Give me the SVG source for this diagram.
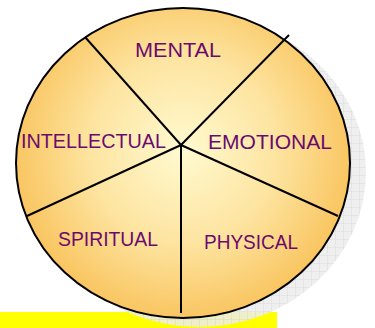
<svg xmlns="http://www.w3.org/2000/svg" width="375" height="328" viewBox="0 0 375 328">
<style>
.lbl{font-family:"Liberation Sans",Arial,sans-serif;font-size:20px;fill:#6b0a6e;}
.spoke{stroke:#000;stroke-width:2;fill:none;}
</style>
<defs>
<radialGradient id="g" cx="183" cy="150" r="170" gradientUnits="userSpaceOnUse">
<stop offset="0" stop-color="#fffad0"/>
<stop offset="0.55" stop-color="#fde4a0"/>
<stop offset="1" stop-color="#f9c560"/>
</radialGradient>
<pattern id="grid" width="8" height="8" patternUnits="userSpaceOnUse">
<rect width="8" height="8" fill="#ececec"/>
<path d="M8 0V8M0 8H8" stroke="#d4d4d4" stroke-width="1"/>
</pattern>
</defs>
<rect width="375" height="328" fill="#fff"/>
<rect x="0" y="312" width="277" height="16" fill="#ffff00"/>
<ellipse cx="199" cy="172" rx="167" ry="155" fill="url(#grid)" opacity="0.85"/>
<g id="wheel">
<ellipse cx="183" cy="163" rx="167" ry="155" fill="url(#g)" stroke="#000" stroke-width="2"/>
</g>
<g id="connectors">
<line class="spoke" x1="181" y1="145" x2="85" y2="37"/>
<line class="spoke" x1="181" y1="145" x2="289" y2="35"/>
<line class="spoke" x1="181" y1="145" x2="27" y2="216"/>
<line class="spoke" x1="181" y1="145" x2="338" y2="216"/>
<line class="spoke" x1="181" y1="145" x2="181" y2="313"/>
</g>
<g id="mental"><text class="lbl" x="135" y="57" textLength="86" lengthAdjust="spacingAndGlyphs">MENTAL</text></g>
<g id="intellectual"><text class="lbl" x="21" y="148" textLength="145" lengthAdjust="spacingAndGlyphs">INTELLECTUAL</text></g>
<g id="emotional"><text class="lbl" x="208" y="149" textLength="124" lengthAdjust="spacingAndGlyphs">EMOTIONAL</text></g>
<g id="spiritual"><text class="lbl" x="58" y="246" textLength="100" lengthAdjust="spacingAndGlyphs">SPIRITUAL</text></g>
<g id="physical"><text class="lbl" x="204" y="249" textLength="94" lengthAdjust="spacingAndGlyphs">PHYSICAL</text></g>
</svg>
